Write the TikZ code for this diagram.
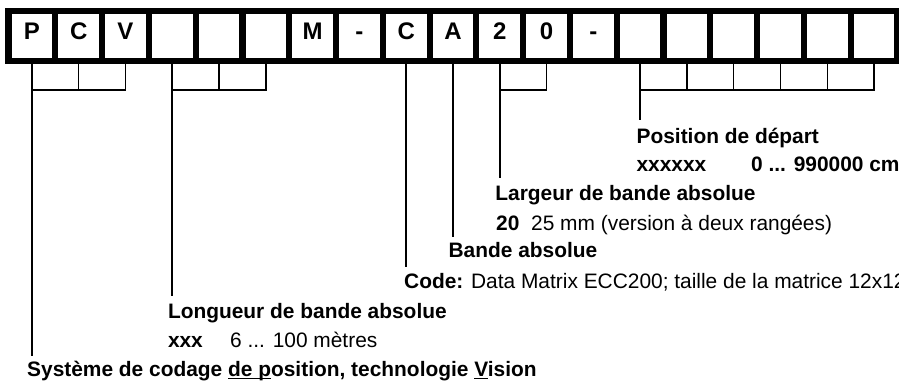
\documentclass[tikz,border=0pt]{standalone}
\usepackage{fontspec}
\setmainfont{Liberation Sans}
\newcommand{\myul}[1]{\setbox0\hbox{#1}\rlap{\rule[-3pt]{\wd0}{1.3pt}}#1}
\begin{document}
\begin{tikzpicture}[x=1pt,y=-1pt,
  gridline/.style={line width=6.2pt},
  brk/.style={line width=1.5pt},
  drop/.style={line width=1.7pt},
  lbl/.style={anchor=base west, inner sep=0pt, font=\fontsize{20.9}{25}\selectfont\bfseries},
  val/.style={anchor=base west, inner sep=0pt, font=\fontsize{20.9}{25}\selectfont},
  cellchar/.style={anchor=base, inner sep=0pt, font=\fontsize{24}{28}\selectfont\bfseries}]
\useasboundingbox (0,0) rectangle (899,381);
\clip (0,0) rectangle (899,381);
\fill[white] (0,0) rectangle (899,381);
% grid
\draw[gridline] (8.5,11) rectangle (897.5,61);
\foreach \i in {1,...,18} \draw[gridline] ({8.5+46.789*\i},11) -- ++(0,50);
\foreach \i in {0,...,18} {
  \coordinate (c\i) at ({8.5+46.789*(\i+0.5)},64);
  \coordinate (t\i) at ({8.5+46.789*(\i+0.5)},39);
}
% cell characters
\node[cellchar] (kP) at (t0) {P};
\node[cellchar] (kC) at (t1) {C};
\node[cellchar] (kV) at (t2) {V};
\node[cellchar] (kM) at (t6) {M};
\node[cellchar] (kh1) at (t7) {-};
\node[cellchar] (kC2) at (t8) {C};
\node[cellchar] (kA) at (t9) {A};
\node[cellchar] (k2) at (t10) {2};
\node[cellchar] (k0) at (t11) {0};
\node[cellchar] (kh2) at (t12) {-};
% brackets
\draw[brk] (c0) -- ++(0,26) -| (c2);
\draw[brk] (c1) -- ++(0,26);
\draw[brk] (c3) -- ++(0,26) -| (c5);
\draw[brk] (c4) -- ++(0,26);
\draw[brk] (c10) -- ++(0,26) -| (c11);
\draw[brk] (c13) -- ++(0,26) -| (c18);
\foreach \i in {14,...,17} \draw[brk] (c\i) -- ++(0,26);
% labels
\node[lbl] (pos) at (636.4,143.5) {Position de départ};
\node[lbl] (posx) at (636.4,171) {xxxxxx};
\node[lbl] (posv) at (751,171) {0 ... 990000 cm};
\node[lbl] (larg) at (495.2,200) {Largeur de bande absolue};
\node[lbl] (largx) at (496,230) {20};
\node[val] (largv) at (531,230) {25 mm (version à deux rangées)};
\node[lbl] (bande) at (448.4,257) {Bande absolue};
\node[val] (code) at (404,288) {\textbf{Code:} Data Matrix ECC200; taille de la matrice 12x12};
\node[lbl] (long) at (167.8,318) {Longueur de bande absolue};
\node[lbl] (longx) at (167.8,347) {xxx};
\node[val] (longv) at (230,347) {6 ... 100 mètres};
\node[lbl] (sys) at (27,376) {Système de codage \myul{de p}osition, technologie \myul{V}ision};
% drop lines
\coordinate (ePos) at (641,120);
\coordinate (eLarg) at (500,178);
\coordinate (eBande) at (453,237);
\coordinate (eCode) at (406,267);
\coordinate (eLong) at (172,296);
\coordinate (eSys) at (32,356);
\draw[drop] (c13) -- (c13 |- ePos);
\draw[drop] (c10) -- (c10 |- eLarg);
\draw[drop] (c9) -- (c9 |- eBande);
\draw[drop] (c8) -- (c8 |- eCode);
\draw[drop] (c3) -- (c3 |- eLong);
\draw[drop] (c0) -- (c0 |- eSys);
\end{tikzpicture}
\end{document}
